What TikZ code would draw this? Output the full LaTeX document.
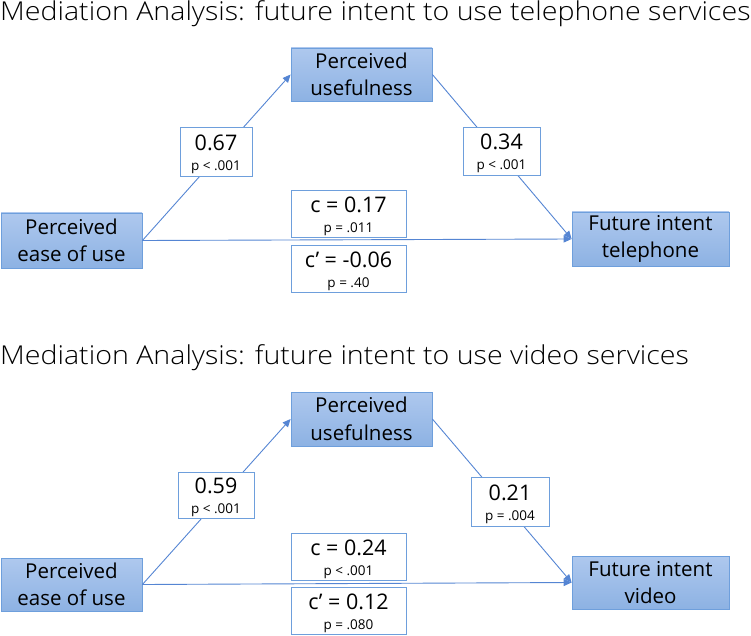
\documentclass[tikz,border=0pt]{standalone}
\usepackage{fontspec}
\setmainfont{Open Sans}
\newfontfamily\titlefont{Open Sans Light}
\usetikzlibrary{arrows.meta}
\definecolor{boxtop}{HTML}{AEC8EE}
\definecolor{boxbot}{HTML}{8DB2E3}
\definecolor{boxline}{HTML}{6E9FDC}
\definecolor{arrowc}{HTML}{5585D3}
\tikzset{
  var/.style={draw=boxline, line width=0.8pt, top color=boxtop, bottom color=boxbot,
    align=center, font=\fontsize{20.5}{27.5}\selectfont, inner sep=0pt},
  lab/.style={draw=boxline, line width=0.8pt, fill=white, align=center, inner sep=0pt,
    font=\fontsize{21.5}{20}\selectfont},
  conn/.style={draw=arrowc, line width=0.9pt, -{Triangle[length=8pt,width=7pt]}},
  ttl/.style={anchor=base west, inner sep=0pt, font=\titlefont\fontsize{26}{30}\selectfont},
}
\newcommand{\smlp}[1]{{\fontsize{13.5}{15}\selectfont #1}}
\newcommand{\ttltext}[1]{\scalebox{1.1}[1]{#1}}
\newcommand{\topstrut}{\rule{0pt}{21pt}}
\begin{document}
\begin{tikzpicture}[x=1pt,y=-1pt]
\useasboundingbox (0,0) rectangle (751,636);
% ---- top panel ----
\node[ttl] (t1) at (0,21) {\ttltext{Mediation Analysis: future intent to use telephone services}};
\node[var, minimum width=141pt, minimum height=53pt] (pu1) at (361.5,74.5) {Perceived\\usefulness};
\node[var, minimum width=141pt, minimum height=55pt] (eu1) at (71.5,240.5) {Perceived\\ease of use};
\node[var, minimum width=157pt, minimum height=54pt] (fi1) at (650.5,239) {Future intent\\telephone};
\draw[conn] (eu1.east) -- (pu1.west);
\draw[conn] (pu1.east) -- (fi1.west);
\draw[conn] (eu1.east) -- (fi1.west);
\node[lab, minimum width=72pt, minimum height=49pt] (a1) at (216,151.5) {\topstrut 0.67\\\smlp{p < .001}};
\node[lab, minimum width=77pt, minimum height=48pt] (b1) at (501.5,151) {\topstrut 0.34\\\smlp{p < .001}};
\node[lab, minimum width=115pt, minimum height=47pt] (c1) at (348.5,213.5) {\topstrut c = 0.17\\\smlp{p = .011}};
\node[lab, minimum width=115pt, minimum height=47pt] (d1) at (348.5,268.5) {\topstrut c’ = -0.06\\\smlp{p = .40}};
% ---- bottom panel ----
\node[ttl] (t2) at (0,364) {\ttltext{Mediation Analysis: future intent to use video services}};
\node[var, minimum width=141pt, minimum height=54pt] (pu2) at (361.5,419) {Perceived\\usefulness};
\node[var, minimum width=141pt, minimum height=53pt] (eu2) at (71.5,584.5) {Perceived\\ease of use};
\node[var, minimum width=157pt, minimum height=53pt] (fi2) at (650.5,582.5) {Future intent\\video};
\draw[conn] (eu2.east) -- (pu2.west);
\draw[conn] (pu2.east) -- (fi2.west);
\draw[conn] (eu2.east) -- (fi2.west);
\node[lab, minimum width=76pt, minimum height=46pt] (a2) at (216,495) {\topstrut 0.59\\\smlp{p < .001}};
\node[lab, minimum width=78pt, minimum height=49pt] (b2) at (510,501.5) {\topstrut 0.21\\\smlp{p = .004}};
\node[lab, minimum width=115pt, minimum height=47pt] (c2) at (348.5,556.5) {\topstrut c = 0.24\\\smlp{p < .001}};
\node[lab, minimum width=115pt, minimum height=47pt] (d2) at (348.5,610.5) {\topstrut c’ = 0.12\\\smlp{p = .080}};
\end{tikzpicture}
\end{document}
